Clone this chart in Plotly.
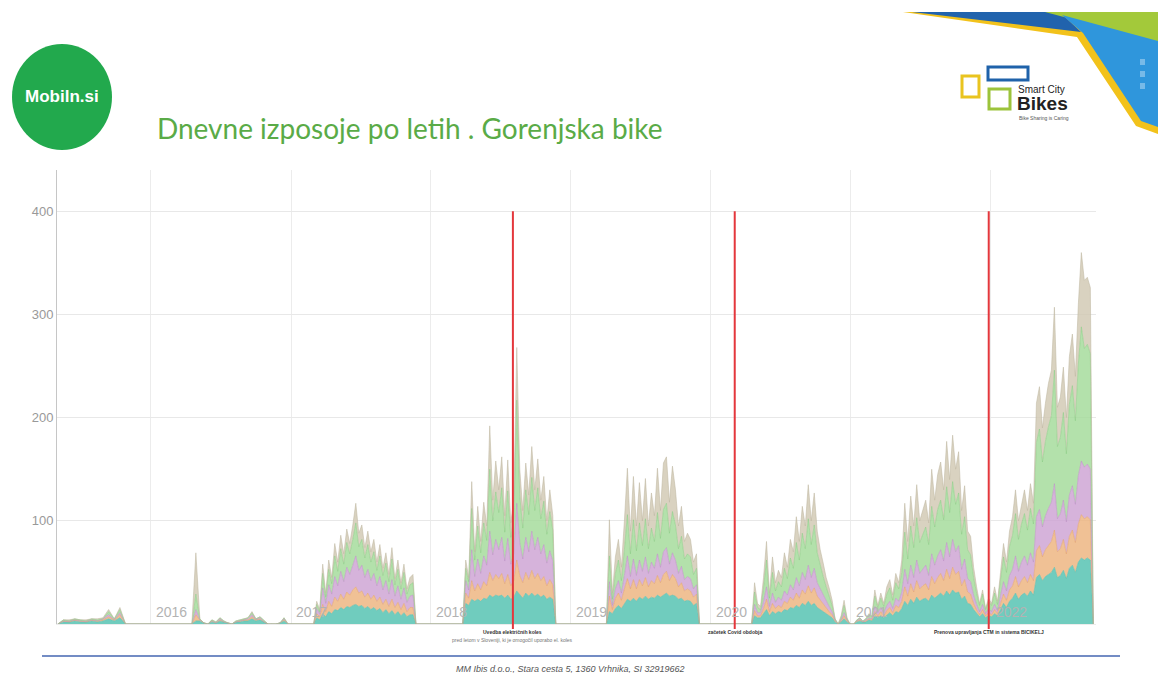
import plotly.graph_objects as go
import pandas as pd

# ---------------- data ----------------
season_dates = [
    ("2015-05-03", "2015-10-27"),
    ("2016-04-17", "2016-12-24"),
    ("2017-03-01", "2017-11-23"),
    ("2018-03-25", "2018-11-23"),
    ("2019-04-04", "2019-12-03"),
    ("2020-04-17", "2020-12-30"),
    ("2021-01-09", "2022-09-26"),
]

teal = [
    [0,2,2,3,2,2,3,2,3,5,3,6,0],
    [0,3,3,1,0,2,1,3,2,1,0,2,2,3,3,5,3,4,2,0,0,0,1,3,0],
    [0,6,4,10,7,12,10,14,13,16,14,17,16,18,19,17,18,15,17,14,16,13,15,11,14,10,13,9,12,8,11,7,9,9,0],
    [0,20,18,24,22,24,22,25,24,28,26,28,27,28,25,28,24,26,32,28,25,30,27,30,27,29,26,28,24,26,24,0],
    [0,12,10,15,18,15,20,24,22,25,22,26,24,27,24,26,25,28,26,28,30,27,28,27,24,25,22,23,22,18,20,0],
    [0,8,6,6,10,14,8,12,10,12,11,14,13,16,15,18,16,20,18,22,18,20,16,14,12,10,8,6,2,0,2,5,2,0],
    [0,2,3,2,2,4,3,8,6,8,6,9,11,8,12,11,15,22,18,24,20,26,22,24,25,22,28,25,28,30,27,32,28,33,30,31,24,27,20,19,
     14,10,7,10,6,8,7,10,8,14,20,16,22,25,30,24,28,30,27,32,28,45,48,42,46,48,50,55,45,47,52,44,54,57,50,60,64,62,64,62,0],
]
orange = [
    [0,1,0,1,1,0,1,1,1,2,1,3,0],
    [0,6,1,0,0,1,0,1,0,0,0,0,1,1,1,2,1,1,0,0,0,0,0,1,0],
    [0,4,3,9,5,10,7,12,9,13,10,14,12,15,17,13,14,11,13,10,12,9,11,8,10,7,11,7,9,6,9,5,7,7,0],
    [0,10,7,18,10,15,11,16,13,22,16,20,17,21,14,20,13,16,30,19,15,20,16,22,17,20,16,18,13,17,14,0],
    [0,15,4,10,12,8,14,20,12,18,12,17,13,18,12,16,14,19,14,20,21,15,20,17,12,15,10,11,10,8,9,0],
    [0,5,2,2,5,10,4,8,5,6,5,8,7,10,8,12,9,13,11,15,12,15,11,9,7,6,4,3,1,0,1,3,1,0],
    [0,1,1,0,1,1,1,4,2,4,2,4,5,3,6,5,7,14,9,15,11,16,12,13,14,11,18,14,17,19,15,21,16,22,18,20,13,16,11,10,
     6,4,2,4,2,3,2,4,2,6,9,7,11,12,16,12,14,16,13,16,14,26,28,23,26,28,30,36,25,26,30,24,31,34,29,37,42,40,40,39,0],
]
purple = [
    [0,0,1,0,0,1,0,0,1,2,0,2,0],
    [0,5,0,0,0,0,0,1,0,0,0,0,0,0,1,2,0,1,0,0,0,0,0,1,0],
    [0,5,3,16,8,16,12,20,15,22,17,24,20,24,30,22,25,19,23,18,21,15,20,14,18,12,19,11,16,10,15,9,11,12,0],
    [0,12,8,30,14,24,16,25,20,40,25,34,28,35,22,35,21,26,55,32,23,34,27,38,28,35,26,31,22,28,23,0],
    [0,14,4,9,12,7,13,22,12,20,13,19,14,20,13,18,15,21,15,22,23,16,21,18,13,16,11,12,12,8,9,0],
    [0,6,3,3,7,12,5,10,6,8,7,10,8,12,10,15,12,17,14,20,15,19,13,11,9,7,5,3,1,0,1,3,1,0],
    [0,0,1,0,1,1,1,5,3,4,3,5,6,4,7,6,9,17,12,18,14,20,15,16,18,14,22,18,21,23,19,26,21,27,22,25,16,20,13,12,
     8,5,3,5,2,4,3,5,3,8,12,9,14,16,20,15,18,20,17,21,18,33,35,29,33,36,38,45,32,34,38,31,40,43,37,47,52,50,51,49,0],
]
green = [
    [0,1,0,1,1,0,1,1,0,3,1,3,0],
    [0,15,1,0,0,1,1,1,1,0,0,1,1,1,1,2,1,1,1,0,0,0,0,1,0],
    [0,4,2,14,6,15,10,20,14,22,17,24,20,25,32,23,25,19,24,18,21,15,20,14,17,12,20,11,16,10,15,8,11,12,0],
    [0,12,8,40,16,32,20,32,24,60,33,46,36,48,28,46,26,34,100,45,30,46,36,52,38,48,34,42,28,38,30,0],
    [0,25,6,15,20,12,25,40,22,38,24,36,25,37,24,33,26,40,28,41,43,30,40,34,24,29,20,22,21,14,16,0],
    [0,12,5,3,13,26,8,20,11,15,13,22,16,26,21,34,25,38,30,45,32,42,29,22,18,13,10,6,1,0,2,7,1,0],
    [0,1,1,1,1,3,2,10,5,9,6,11,13,8,15,12,19,36,24,38,29,41,30,34,37,30,46,37,45,48,40,54,43,56,46,51,34,41,28,26,
     17,11,6,10,4,7,6,11,6,15,24,18,28,33,41,31,37,41,34,43,37,72,78,63,72,79,84,110,70,74,85,66,88,97,81,108,130,115,116,112,0],
]
tan = [
    [0,0,1,0,0,1,0,1,1,2,0,2,0],
    [0,40,0,0,0,0,0,0,0,0,0,0,0,0,0,1,0,0,0,0,0,0,0,0,0],
    [0,3,2,9,4,9,6,12,9,13,10,13,10,14,19,13,14,10,13,10,12,8,11,7,10,7,11,6,9,6,8,5,7,8,0],
    [0,8,4,26,8,19,11,20,14,42,20,30,22,30,16,30,14,18,51,26,17,26,19,30,20,28,18,24,13,21,14,0],
    [0,35,6,16,20,13,28,45,22,42,24,39,24,39,22,34,25,43,27,45,45,30,44,34,22,29,17,20,17,12,14,0],
    [0,9,4,3,10,18,5,15,8,11,9,15,11,18,16,25,18,26,22,33,23,31,21,16,13,9,8,5,0,0,2,5,1,0],
    [0,0,0,0,0,1,1,6,2,5,3,7,8,5,9,6,12,28,17,29,21,32,21,24,26,21,36,26,34,37,29,44,32,45,34,40,23,30,18,18,
     10,6,2,4,1,3,2,6,3,7,13,10,15,18,23,18,20,23,19,24,20,38,41,33,37,42,44,61,38,39,44,35,46,50,43,58,72,66,65,64,0],
]

year_ticks = ["2016-01-01", "2017-01-01", "2018-01-01", "2019-01-01",
              "2020-01-01", "2021-01-01", "2022-01-01"]
year_labels = ["2016", "2017", "2018", "2019", "2020", "2021", "2022"]

event_dates = ["2018-08-03", "2020-03-04", "2021-12-27"]
event_titles = ["Uvedba električnih koles", "začetek Covid obdobja",
                "Prenova upravljanja CTM in sistema BICIKELJ"]
event_subtitles = ["pred letom v Sloveniji, ki je omogočil uporabo el. koles", "", ""]

# ---------------- build x ----------------
x_all = []
for (s, e), vals in zip(season_dates, teal):
    x_all += list(pd.date_range(s, e, periods=len(vals)))

def flat(series):
    out = []
    for part in series:
        out += part
    return out

series = [
    ("teal", flat(teal), "rgba(100,200,185,0.92)", "rgba(90,190,175,1)"),
    ("orange", flat(orange), "rgba(236,178,122,0.80)", "rgba(228,160,100,0.9)"),
    ("purple", flat(purple), "rgba(204,160,210,0.80)", "rgba(190,140,200,0.9)"),
    ("green", flat(green), "rgba(160,218,150,0.80)", "rgba(135,205,130,0.9)"),
    ("tan", flat(tan), "rgba(208,199,176,0.80)", "rgba(190,182,160,0.9)"),
]

fig = go.Figure()
for name, ys, fc, lc in series:
    fig.add_trace(go.Scatter(x=x_all, y=ys, name=name, mode="lines",
                             stackgroup="one", fillcolor=fc,
                             line=dict(color=lc, width=0.6),
                             hoverinfo="skip"))

# ---------------- geometry helpers ----------------
W, H = 1158, 673
L, R, T, B = 57, 1096, 170, 624

def px(x):
    return (x - L) / (R - L)

def py(y):
    return (B - y) / (B - T)

def path(pts):
    return "M " + " L ".join(f"{px(a):.5f},{py(b):.5f}" for a, b in pts) + " Z"

shapes = []
annotations = []

# red event lines + notes
for d, t1, t2 in zip(event_dates, event_titles, event_subtitles):
    shapes.append(dict(type="line", xref="x", yref="paper", x0=d, x1=d,
                       y0=py(629), y1=400 / 440, line=dict(color="#e4373c", width=2)))
    annotations.append(dict(x=d, y=py(637), xref="x", yref="paper", text="<b>" + t1 + "</b>",
                            showarrow=False, xanchor="center",
                            font=dict(size=5, color="#333", family="Liberation Sans")))
    if t2:
        annotations.append(dict(x=d, y=py(645), xref="x", yref="paper", text=t2,
                                showarrow=False, xanchor="center",
                                font=dict(size=5, color="#777", family="Liberation Sans")))

# year labels inside plot
for d, lab in zip(year_ticks, year_labels):
    annotations.append(dict(x=d, y=0, xref="x", yref="y", text=lab, showarrow=False,
                            xanchor="left", yanchor="bottom", xshift=3, yshift=2,
                            font=dict(size=14, color="#b3b3b3", family="Liberation Sans")))

# Title
annotations.append(dict(x=px(155), y=py(128), xref="paper", yref="paper",
                        text="Dnevne izposoje po letih . Gorenjska bike", showarrow=False,
                        xanchor="left", yanchor="middle",
                        font=dict(size=28, color="#5aab47", family="Lato")))

# Mobiln.si logo
shapes.append(dict(type="circle", xref="paper", yref="paper", x0=px(12), x1=px(112),
                   y0=py(150), y1=py(44), fillcolor="#22a94d", line=dict(width=0)))
annotations.append(dict(x=px(62), y=py(97), xref="paper", yref="paper", text="<b>Mobiln.si</b>",
                        showarrow=False, xanchor="center", yanchor="middle",
                        font=dict(size=17, color="white", family="Liberation Sans")))

# top-right swoosh
shapes.append(dict(type="path", xref="paper", yref="paper",
                   path=path([(903, 12), (1050, 12), (1158, 40), (1158, 134), (1136, 126), (1077, 37)]),
                   fillcolor="#f2c21b", line=dict(width=0)))
shapes.append(dict(type="path", xref="paper", yref="paper",
                   path=path([(912, 12), (1050, 12), (1064, 16), (1081, 32)]),
                   fillcolor="#2163ad", line=dict(width=0)))
shapes.append(dict(type="path", xref="paper", yref="paper",
                   path=path([(1045, 12), (1158, 12), (1158, 42)]),
                   fillcolor="#a3c93a", line=dict(width=0)))
shapes.append(dict(type="path", xref="paper", yref="paper",
                   path=path([(1062, 15), (1158, 41), (1158, 127), (1141, 121), (1083, 33)]),
                   fillcolor="#2f96dc", line=dict(width=0)))
for yy in (62, 74, 86):
    shapes.append(dict(type="rect", xref="paper", yref="paper", x0=px(1140), x1=px(1145),
                       y0=py(yy + 3), y1=py(yy - 3), fillcolor="rgba(255,255,255,0.35)",
                       line=dict(width=0)))

# Smart City Bikes logo
shapes.append(dict(type="rect", xref="paper", yref="paper", x0=px(962), x1=px(979),
                   y0=py(97), y1=py(76), line=dict(color="#e9c41f", width=3)))
shapes.append(dict(type="rect", xref="paper", yref="paper", x0=px(988), x1=px(1028),
                   y0=py(80), y1=py(67), line=dict(color="#1f62aa", width=3)))
shapes.append(dict(type="rect", xref="paper", yref="paper", x0=px(989), x1=px(1010),
                   y0=py(109), y1=py(89), line=dict(color="#9cc33b", width=3)))
annotations.append(dict(x=px(1016), y=py(90), xref="paper", yref="paper", text="Smart City",
                        showarrow=False, xanchor="left", yanchor="middle",
                        font=dict(size=10, color="#222", family="Liberation Sans Narrow, Liberation Sans")))
annotations.append(dict(x=px(1015), y=py(104), xref="paper", yref="paper", text="<b>Bikes</b>",
                        showarrow=False, xanchor="left", yanchor="middle",
                        font=dict(size=19, color="#222", family="Liberation Sans")))
annotations.append(dict(x=px(1017), y=py(118), xref="paper", yref="paper", text="Bike Sharing is Caring",
                        showarrow=False, xanchor="left", yanchor="middle",
                        font=dict(size=5, color="#555", family="Liberation Sans")))

# footer
shapes.append(dict(type="line", xref="paper", yref="paper", x0=px(42), x1=px(1120),
                   y0=py(656), y1=py(656), line=dict(color="#4466b0", width=1.5)))
annotations.append(dict(x=px(570), y=py(669), xref="paper", yref="paper",
                        text="<i>MM Ibis d.o.o., Stara cesta 5, 1360 Vrhnika, SI 32919662</i>",
                        showarrow=False, xanchor="center", yanchor="middle",
                        font=dict(size=9, color="#555", family="Liberation Sans")))

fig.update_layout(
    width=W, height=H, autosize=False,
    margin=dict(l=L, r=W - R, t=T, b=H - B, pad=0),
    paper_bgcolor="white", plot_bgcolor="white",
    showlegend=False,
    shapes=shapes, annotations=annotations,
    xaxis=dict(type="date", range=["2015-05-01", "2022-10-03"],
               tickvals=year_ticks, showticklabels=False, ticks="",
               showgrid=True, gridcolor="#ececec", gridwidth=1,
               zeroline=False, showline=True, linecolor="#ececec", linewidth=1),
    yaxis=dict(range=[0, 440], tickvals=[100, 200, 300, 400], ticks="",
               showgrid=True, gridcolor="#e8e8e8", gridwidth=1,
               zeroline=False, showline=True, linecolor="#c6c6c6", linewidth=1,
               tickfont=dict(size=13, color="#999", family="Liberation Sans")),
)

fig.write_html("out.html", config={"displayModeBar": False},
               post_script="document.body.style.margin='0px';document.body.style.overflow='hidden';")
